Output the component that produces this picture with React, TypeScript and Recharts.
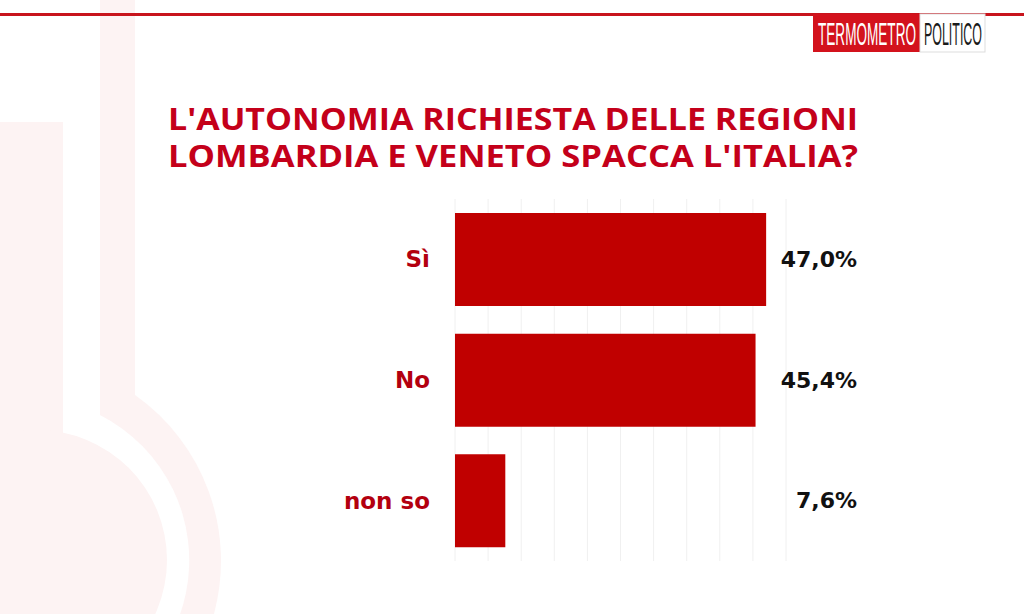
import React from "react";
import { BarChart, Bar, XAxis, YAxis, CartesianGrid, LabelList } from "recharts";

const categories = ["Sì", "No", "non so"];
const values = [47.0, 45.4, 7.6];
const valueLabels = ["47,0%", "45,4%", "7,6%"];
const xTicks = [0, 5, 10, 15, 20, 25, 30, 35, 40, 45];
const titleLines = ["L'AUTONOMIA RICHIESTA DELLE REGIONI", "LOMBARDIA E VENETO SPACCA L'ITALIA?"];

const data = categories.map((name, i) => ({ name, value: values[i], label: valueLabels[i] }));

const W = 1024;
const H = 614;
const FONT = "'Open Sans', 'DejaVu Sans', sans-serif";
const LABEL_FONT = "'DejaVu Sans', 'Open Sans', sans-serif";
const LOGO_FONT = "'Liberation Sans Narrow', 'Liberation Sans', sans-serif";
const PINK = "#fdf3f3";
const VALUE_COL_X = 857;

const ValueLabel = (props: any) => {
  const { y, height, value } = props;
  return (
    <text
      x={VALUE_COL_X}
      y={y + height / 2}
      textAnchor="end"
      dominantBaseline="central"
      fontFamily={LABEL_FONT}
      fontWeight={700}
      fontSize={22}
      fill="#111111"
    >
      {value}
    </text>
  );
};

const CatTick = (props: any) => {
  const { x, y, payload } = props;
  return (
    <text
      x={x}
      y={y}
      textAnchor="end"
      dominantBaseline="central"
      fontFamily={LABEL_FONT}
      fontWeight={700}
      fontSize={23}
      fill="#b3000f"
    >
      {payload.value}
    </text>
  );
};

export default function App() {
  return (
    <div style={{ position: "absolute", left: 0, top: 0, width: W, height: H, background: "#ffffff", overflow: "hidden" }}>
      <svg width={W} height={H} style={{ position: "absolute", left: 0, top: 0 }}>
        {/* background thermometer */}
        <rect x={0} y={122} width={63} height={360} fill={PINK} />
        <circle cx={37} cy={560} r={130} fill={PINK} />
        <path
          d={`M 100 0 L 135 0 L 135 395 A 203 203 0 0 1 37 763 L 37 723 A 163 163 0 0 0 100 415 Z`}
          fill={PINK}
        />
        {/* top line */}
        <rect x={0} y={13} width={W} height={3} fill="#c8141c" />
        {/* logo */}
        <rect x={813} y={14} width={107} height={38} fill="#d3121c" />
        <rect x={920} y={14} width={65} height={38} fill="#ffffff" stroke="#dddddd" strokeWidth={1} />
        <g transform="translate(818,45) scale(1,2)">
          <text x={0} y={0} textLength={98} lengthAdjust="spacingAndGlyphs" fontFamily={LOGO_FONT} fontSize={16} fill="#ffffff">
            TERMOMETRO
          </text>
        </g>
        <g transform="translate(924,45) scale(1,2)">
          <text x={0} y={0} textLength={58} lengthAdjust="spacingAndGlyphs" fontFamily={LOGO_FONT} fontSize={16} fill="#1a1a1a">
            POLITICO
          </text>
        </g>
        {/* title */}
        <text x={168} y={130} textLength={690} lengthAdjust="spacingAndGlyphs" fontFamily={FONT} fontWeight={700} fontSize={31} fill="#c4001a">
          {titleLines[0]}
        </text>
        <text x={168} y={167} textLength={690} lengthAdjust="spacingAndGlyphs" fontFamily={FONT} fontWeight={700} fontSize={31} fill="#c4001a">
          {titleLines[1]}
        </text>
      </svg>
      <div style={{ position: "absolute", left: 0, top: 0 }}>
        <BarChart
          width={W}
          height={H}
          layout="vertical"
          data={data}
          margin={{ top: 199, right: 238, bottom: 53, left: 0 }}
        >
          <CartesianGrid horizontal={false} stroke="#f0f0f0" strokeWidth={1} />
          <XAxis type="number" domain={[0, 50]} ticks={xTicks} hide />
          <YAxis
            type="category"
            dataKey="name"
            width={455}
            axisLine={false}
            tickLine={false}
            tickSize={0}
            tickMargin={25}
            tick={<CatTick />}
          />
          <Bar dataKey="value" fill="#c00000" barSize={93} isAnimationActive={false}>
            <LabelList dataKey="label" content={<ValueLabel />} />
          </Bar>
        </BarChart>
      </div>
    </div>
  );
}
